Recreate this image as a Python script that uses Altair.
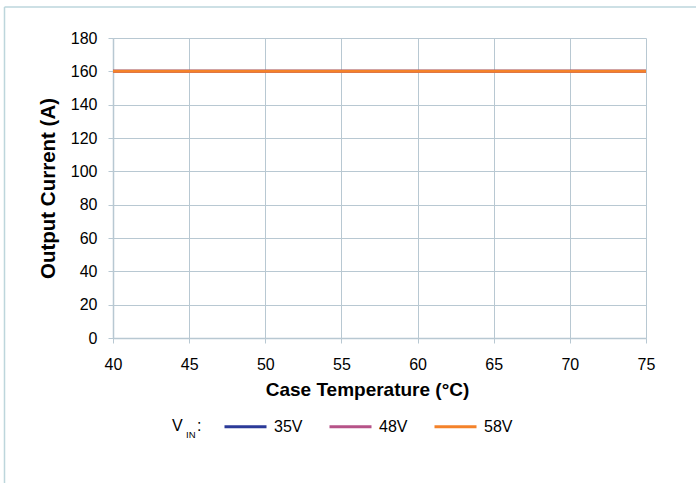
import altair as alt
import pandas as pd

temps = [40, 45, 50, 55, 60, 65, 70, 75]
series_names = ["35V", "48V", "58V"]
current_35v = [160, 160, 160, 160, 160, 160, 160, 160]
current_48v = [160, 160, 160, 160, 160, 160, 160, 160]
current_58v = [160, 160, 160, 160, 160, 160, 160, 160]
colors = ["#2B3A98", "#B65388", "#F4822A"]

rows = []
for name, vals in zip(series_names, [current_35v, current_48v, current_58v]):
    for t, v in zip(temps, vals):
        rows.append({"temp": t, "current": v, "series": name})
df = pd.DataFrame(rows)

W, H = 533, 300
PL, PT = 113, 38
GRID = "#B8C8D2"
FONT = "Liberation Sans"

lines = alt.Chart(df).mark_line(strokeWidth=3).encode(
    x=alt.X("temp:Q", scale=alt.Scale(domain=[40, 75], nice=False, zero=False),
            axis=alt.Axis(values=temps, title="Case Temperature (°C)", titleX=254)),
    y=alt.Y("current:Q", scale=alt.Scale(domain=[0, 180], nice=False),
            axis=alt.Axis(values=list(range(0, 181, 20)), title="Output Current (A)")),
    color=alt.Color("series:N", scale=alt.Scale(domain=series_names, range=colors),
                    legend=alt.Legend(title=None, orient="none", direction="horizontal",
                                      legendX=110, legendY=366, symbolType="stroke",
                                      symbolSize=1764, symbolStrokeWidth=3,
                                      labelFontSize=16, labelFont=FONT, labelColor="#000000",
                                      labelOffset=6, columnPadding=20)),
    order=alt.Order("series:N"),
)

v_text = alt.Chart(pd.DataFrame({"t": ["V"]})).mark_text(
    font=FONT, fontSize=16, align="left", baseline="alphabetic", color="#000000"
).encode(text="t:N", x=alt.value(172 - PL), y=alt.value(431 - PT))
in_text = alt.Chart(pd.DataFrame({"t": ["IN"]})).mark_text(
    font=FONT, fontSize=9.5, align="left", baseline="alphabetic", color="#000000"
).encode(text="t:N", x=alt.value(186 - PL), y=alt.value(438 - PT))
colon_text = alt.Chart(pd.DataFrame({"t": [":"]})).mark_text(
    font=FONT, fontSize=16, align="left", baseline="alphabetic", color="#000000"
).encode(text="t:N", x=alt.value(197 - PL), y=alt.value(431 - PT))

border_top = alt.Chart(pd.DataFrame({"a": [0]})).mark_rule(color="#BDD6DC", strokeWidth=1.5).encode(
    x=alt.value(4.5 - PL), x2=alt.value(800), y=alt.value(7 - PT))
border_left = alt.Chart(pd.DataFrame({"a": [0]})).mark_rule(color="#BDD6DC", strokeWidth=1.5).encode(
    x=alt.value(4.5 - PL), y=alt.value(7 - PT), y2=alt.value(600))

chart = alt.layer(border_top, border_left, lines, v_text, in_text, colon_text).properties(
    width=W, height=H,
    autosize=alt.AutoSizeParams(type="none"),
    padding={"left": PL, "top": PT, "right": 696 - PL - W, "bottom": 483 - PT - H},
).configure_view(stroke=None).configure_axis(
    grid=True, gridColor=GRID, gridWidth=1, domainColor=GRID, domainWidth=1.5,
    tickColor=GRID, tickSize=5, tickWidth=1,
    labelFont=FONT, labelFontSize=16, labelColor="#000000", labelFlush=False,
    titleFont=FONT, titleFontWeight="bold", titleColor="#000000",
).configure_axisX(labelPadding=13, titlePadding=8, titleFontSize=19
).configure_axisY(labelPadding=11, titlePadding=12, titleFontSize=20.5)

chart.save("out.html", embed_options={"renderer": "svg", "actions": False})
